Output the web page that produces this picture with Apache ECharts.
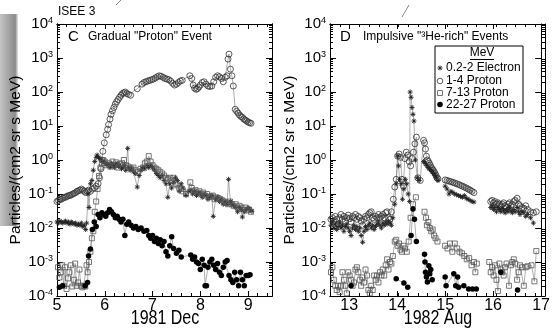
<!DOCTYPE html>
<html><head><meta charset="utf-8">
<script src="https://cdn.jsdelivr.net/npm/echarts@6/dist/echarts.min.js"></script>
<style>html,body{margin:0;padding:0;background:#fff}#c{width:553px;height:329px}</style>
</head><body><div id="c"></div>
<script>
// ---------- tick labels ----------
const leftXTicks = [5, 6, 7, 8, 9];
const rightXTicks = [13, 14, 15, 16, 17];
const yExponents = [-4, -3, -2, -1, 0, 1, 2, 3, 4];

// ---------- Panel C : 1981 Dec (day, value) ----------
const leftElectron = [[5.00,0.015],[5.03,0.014],[5.06,0.016],[5.09,0.015],[5.12,0.014],[5.15,0.015],[5.18,0.016],[5.21,0.014],[5.24,0.015],[5.27,0.013],[5.30,0.015],[5.33,0.014],[5.36,0.013],[5.39,0.014],[5.42,0.012],[5.45,0.013],[5.48,0.012],[5.51,0.014],[5.54,0.011],[5.57,0.012],[5.60,0.009],[5.62,0.014],[5.65,0.1],[5.67,0.04],[5.70,0.2],[5.73,0.25],[5.76,0.5],[5.79,0.9],[5.82,1.2],[5.84,1.4],[5.87,1.2],[5.90,1.1],[5.93,1.0],[5.96,0.9],[5.99,0.85],[6.02,0.8],[6.05,0.7],[6.08,0.75],[6.11,0.6],[6.14,0.8],[6.17,0.7],[6.20,0.6],[6.23,0.75],[6.26,0.8],[6.29,0.65],[6.32,0.7],[6.35,0.55],[6.38,0.6],[6.41,0.7],[6.44,0.5],[6.48,2.2],[6.50,0.6],[6.53,0.5],[6.56,0.55],[6.60,0.45],[6.64,0.4],[6.68,0.16],[6.72,0.35],[6.76,0.5],[6.80,0.6],[6.84,0.55],[6.88,0.7],[6.92,0.6],[6.96,0.7],[7.00,0.6],[7.04,0.5],[7.08,0.4],[7.12,0.35],[7.16,0.3],[7.20,0.35],[7.24,0.25],[7.28,0.2],[7.32,0.08],[7.36,0.2],[7.40,0.15],[7.44,0.22],[7.48,0.3],[7.52,0.25],[7.56,0.12],[7.60,0.2],[7.64,0.15],[7.70,0.09],[7.76,0.12],[7.80,0.13],[7.84,0.1],[7.88,0.12],[7.92,0.09],[7.96,0.11],[8.00,0.1],[8.04,0.08],[8.08,0.1],[8.12,0.09],[8.16,0.07],[8.20,0.08],[8.24,0.09],[8.27,0.022],[8.32,0.07],[8.36,0.08],[8.40,0.06],[8.44,0.07],[8.48,0.05],[8.52,0.06],[8.56,0.05],[8.59,0.27],[8.63,0.06],[8.66,0.05],[8.70,0.045],[8.74,0.04],[8.78,0.03],[8.82,0.04],[8.86,0.035],[8.88,0.021],[8.92,0.03],[8.96,0.035],[9.00,0.04],[9.04,0.035],[9.08,0.031]];
const leftProton1to4 = [[5.00,0.06],[5.03,0.065],[5.06,0.07],[5.09,0.07],[5.12,0.075],[5.15,0.08],[5.18,0.08],[5.21,0.085],[5.24,0.09],[5.27,0.09],[5.30,0.095],[5.33,0.1],[5.36,0.105],[5.39,0.11],[5.42,0.12],[5.45,0.125],[5.48,0.13],[5.51,0.14],[5.54,0.13],[5.57,0.12],[5.60,0.11],[5.63,0.12],[5.66,0.13],[5.70,0.12],[5.74,0.14],[5.78,0.15],[5.82,0.17],[5.86,0.2],[5.89,0.3],[5.92,0.55],[5.94,1.0],[5.96,1.8],[5.99,3.2],[6.03,5.5],[6.06,8],[6.08,11],[6.11,16],[6.13,22],[6.16,28],[6.19,35],[6.22,44],[6.25,52],[6.28,60],[6.31,70],[6.34,80],[6.37,90],[6.40,95],[6.43,100],[6.46,90],[6.50,85],[6.54,80],[6.68,125],[6.78,170],[6.82,190],[6.86,200],[6.90,210],[6.94,220],[6.98,230],[7.02,240],[7.06,260],[7.10,280],[7.14,300],[7.18,290],[7.22,270],[7.26,250],[7.30,240],[7.34,230],[7.38,210],[7.42,180],[7.46,160],[7.50,170],[7.54,190],[7.58,210],[7.62,220],[7.78,300],[7.82,250],[7.85,160],[7.88,130],[7.91,120],[7.94,125],[7.97,140],[8.00,160],[8.04,190],[8.08,200],[8.12,170],[8.16,150],[8.20,145],[8.24,150],[8.28,200],[8.32,270],[8.36,300],[8.40,280],[8.44,250],[8.48,200],[8.52,270],[8.56,300],[8.58,930],[8.60,1300],[8.63,470],[8.66,300],[8.69,150],[8.73,31],[8.76,27],[8.79,24],[8.82,21],[8.85,19],[8.88,18],[8.91,16],[8.94,15],[8.97,14],[9.00,13],[9.03,12.5],[9.06,12]];
const leftProton7to13 = [[5.02,0.0007],[5.05,0.00035],[5.08,0.0005],[5.11,0.0008],[5.14,0.0002],[5.17,0.0007],[5.20,0.00016],[5.23,0.00033],[5.26,0.0005],[5.29,0.0008],[5.32,0.00019],[5.35,0.0003],[5.38,0.0009],[5.41,0.0002],[5.44,0.00025],[5.47,0.0006],[5.50,0.0002],[5.53,0.00018],[5.56,0.0002],[5.59,0.00019],[5.62,0.0008],[5.64,0.0005],[5.67,0.001],[5.70,0.002],[5.73,0.005],[5.76,0.008],[5.79,0.03],[5.82,0.06],[5.85,0.14],[5.88,0.34],[5.91,0.6],[5.94,0.8],[5.97,1.0],[6.00,0.9],[6.04,0.7],[6.08,0.8],[6.12,0.65],[6.16,0.9],[6.20,0.7],[6.24,0.85],[6.28,0.6],[6.32,0.75],[6.36,0.8],[6.40,1.0],[6.44,0.7],[6.48,0.65],[6.52,0.6],[6.56,0.55],[6.60,0.6],[6.64,0.5],[6.70,0.45],[6.75,0.55],[6.80,0.6],[6.84,0.8],[6.88,0.9],[6.92,1.3],[6.96,0.9],[7.00,0.7],[7.04,0.6],[7.08,0.55],[7.12,0.5],[7.16,0.45],[7.20,0.4],[7.24,0.35],[7.28,0.3],[7.32,0.28],[7.36,0.3],[7.40,0.25],[7.44,0.3],[7.48,0.2],[7.52,0.18],[7.56,0.15],[7.60,0.14],[7.64,0.12],[7.70,0.1],[7.79,0.22],[7.82,0.15],[7.86,0.12],[7.90,0.13],[7.94,0.11],[7.98,0.12],[8.02,0.1],[8.06,0.11],[8.10,0.09],[8.14,0.1],[8.18,0.08],[8.22,0.085],[8.26,0.09],[8.30,0.07],[8.34,0.08],[8.38,0.075],[8.42,0.07],[8.46,0.065],[8.50,0.06],[8.54,0.055],[8.58,0.05],[8.62,0.06],[8.66,0.05],[8.70,0.045],[8.74,0.05],[8.78,0.04],[8.82,0.045],[8.86,0.04],[8.90,0.035],[8.94,0.04],[8.98,0.033],[9.02,0.035],[9.06,0.03]];
const leftProton22to27 = [[5.05,0.00018],[5.12,0.0002],[5.59,0.0002],[5.64,0.00025],[5.66,0.0015],[5.70,0.0024],[5.74,0.009],[5.78,0.015],[5.82,0.011],[5.86,0.025],[5.90,0.02],[5.94,0.028],[5.98,0.025],[6.02,0.022],[6.06,0.028],[6.10,0.035],[6.14,0.03],[6.18,0.025],[6.22,0.02],[6.26,0.022],[6.30,0.018],[6.34,0.015],[6.38,0.018],[6.42,0.006],[6.46,0.013],[6.50,0.015],[6.55,0.012],[6.60,0.01],[6.65,0.011],[6.70,0.009],[6.76,0.01],[6.82,0.008],[6.88,0.0085],[6.92,0.006],[6.96,0.005],[7.00,0.006],[7.04,0.004],[7.08,0.005],[7.12,0.0035],[7.16,0.0045],[7.20,0.003],[7.24,0.004],[7.28,0.002],[7.32,0.0015],[7.36,0.003],[7.40,0.0055],[7.44,0.0025],[7.50,0.0018],[7.55,0.0022],[7.60,0.0014],[7.80,0.0016],[7.84,0.0012],[7.88,0.0014],[7.92,0.001],[7.96,0.0009],[8.00,0.0006],[8.04,0.0012],[8.08,0.0008],[8.10,0.0002],[8.13,0.0002],[8.16,0.0007],[8.20,0.001],[8.24,0.0012],[8.28,0.0008],[8.32,0.0006],[8.36,0.0009],[8.40,0.0005],[8.44,0.0004],[8.48,0.0007],[8.52,0.001],[8.56,0.0011],[8.60,0.0004],[8.64,0.0003],[8.68,0.00025],[8.72,0.0005],[8.76,0.0003],[8.80,0.0002],[8.84,0.0005],[8.88,0.0003],[8.92,0.0002],[8.96,0.0004],[9.00,0.0004],[9.04,0.00042]];

// ---------- Panel D : 1982 Aug (day, value) ----------
const rightElectron = [[12.62,0.012],[12.65,0.015],[12.68,0.01],[12.71,0.013],[12.74,0.009],[12.77,0.011],[12.80,0.014],[12.83,0.01],[12.86,0.012],[12.89,0.008],[12.92,0.011],[12.95,0.013],[12.98,0.01],[13.01,0.008],[13.04,0.006],[13.07,0.01],[13.10,0.012],[13.13,0.009],[13.16,0.011],[13.19,0.008],[13.22,0.01],[13.25,0.006],[13.28,0.0038],[13.31,0.008],[13.34,0.011],[13.37,0.009],[13.40,0.012],[13.43,0.014],[13.46,0.01],[13.49,0.012],[13.52,0.009],[13.55,0.011],[13.58,0.013],[13.61,0.015],[13.64,0.012],[13.67,0.01],[13.70,0.014],[13.73,0.012],[13.76,0.015],[13.79,0.013],[13.82,0.016],[13.85,0.014],[13.88,0.012],[13.91,0.02],[13.95,0.05],[13.98,0.2],[14.01,1.3],[14.03,0.67],[14.05,0.27],[14.08,0.2],[14.11,0.07],[14.14,0.14],[14.17,0.27],[14.20,0.2],[14.23,0.1],[14.26,0.06],[14.27,100],[14.29,70],[14.31,35],[14.33,22],[14.35,14],[14.38,1.0],[14.42,0.3],[14.46,0.25],[14.50,null],[14.55,0.9],[14.58,0.8],[14.61,0.7],[14.64,0.6],[14.67,0.55],[14.70,0.5],[14.73,0.45],[14.76,0.4],[14.79,0.35],[14.82,0.3],[14.85,0.25],[14.92,null],[15.00,0.17],[15.04,0.14],[15.08,0.1],[15.12,0.12],[15.16,0.11],[15.20,0.1],[15.24,0.095],[15.28,0.09],[15.32,0.085],[15.36,0.08],[15.40,0.09],[15.44,0.075],[15.48,0.07],[15.52,0.065],[15.56,0.06],[15.60,0.058],[15.80,null],[15.95,0.04],[15.98,0.045],[16.01,0.035],[16.04,0.04],[16.07,0.03],[16.10,0.04],[16.13,0.035],[16.16,0.03],[16.19,0.038],[16.22,0.032],[16.25,0.028],[16.28,0.035],[16.31,0.03],[16.34,0.04],[16.37,0.032],[16.40,0.028],[16.43,0.035],[16.46,0.03],[16.50,0.04],[16.53,0.03],[16.56,0.025],[16.60,0.03],[16.64,0.028],[16.68,0.022],[16.72,0.025],[16.78,0.02],[16.84,0.014]];
const rightProton1to4 = [[12.62,0.018],[12.65,0.02],[12.68,0.015],[12.71,0.022],[12.74,0.018],[12.77,0.013],[12.80,0.02],[12.83,0.025],[12.86,0.018],[12.89,0.022],[12.92,0.016],[12.95,0.02],[12.98,0.024],[13.01,0.019],[13.04,0.015],[13.07,0.022],[13.10,0.02],[13.13,0.025],[13.16,0.018],[13.19,0.022],[13.22,0.02],[13.25,0.016],[13.28,0.012],[13.31,0.018],[13.34,0.022],[13.37,0.02],[13.40,0.025],[13.43,0.028],[13.46,0.03],[13.49,0.02],[13.52,0.018],[13.55,0.022],[13.58,0.02],[13.61,0.025],[13.64,0.02],[13.67,0.022],[13.70,0.025],[13.73,0.02],[13.76,0.028],[13.79,0.03],[13.82,0.02],[13.85,0.018],[13.88,0.03],[13.92,0.07],[13.95,0.16],[13.98,0.27],[14.01,1.3],[14.04,1.5],[14.07,1.2],[14.10,0.27],[14.13,0.17],[14.16,1.1],[14.19,1.7],[14.22,1.4],[14.25,0.9],[14.28,0.67],[14.31,1.1],[14.34,1.7],[14.37,3.0],[14.40,4.7],[14.43,0.3],[14.48,0.25],[14.55,3.8],[14.57,3.2],[14.59,2.1],[14.61,1.3],[14.63,1.0],[14.65,0.9],[14.67,0.8],[14.69,0.7],[14.71,0.6],[14.73,0.55],[14.75,0.5],[14.77,0.45],[14.79,0.4],[14.81,0.35],[14.83,0.3],[14.85,0.28],[14.92,null],[15.00,0.26],[15.04,0.25],[15.08,0.24],[15.12,0.23],[15.16,0.22],[15.20,0.21],[15.24,0.2],[15.28,0.19],[15.32,0.18],[15.36,0.17],[15.40,0.16],[15.44,0.15],[15.48,0.14],[15.52,0.13],[15.56,0.12],[15.60,0.11],[15.80,null],[15.95,0.06],[15.98,0.065],[16.01,0.055],[16.04,0.06],[16.07,0.05],[16.10,0.055],[16.13,0.05],[16.16,0.045],[16.19,0.05],[16.22,0.055],[16.25,0.045],[16.28,0.04],[16.31,0.05],[16.34,0.055],[16.37,0.045],[16.40,0.05],[16.43,0.06],[16.46,0.065],[16.50,0.075],[16.53,0.05],[16.56,0.045],[16.60,0.04],[16.64,0.038],[16.68,0.045],[16.72,0.035],[16.78,0.03],[16.84,0.028],[16.90,0.03]];
const rightProton7to13 = [[12.62,0.0005],[12.65,0.0007],[12.68,0.0003],[12.71,0.0002],[12.74,0.00015],[12.77,0.0002],[12.80,0.00013],[12.83,0.0002],[12.86,0.0005],[12.89,0.0003],[12.92,0.0002],[12.95,0.00012],[12.98,0.0005],[13.01,0.0004],[13.04,0.0003],[13.07,0.0002],[13.10,0.00025],[13.13,0.0006],[13.16,0.0007],[13.19,0.0005],[13.22,0.0003],[13.25,0.0002],[13.28,0.00035],[13.31,0.00025],[13.34,0.0006],[13.37,0.0004],[13.40,0.00015],[13.43,0.00012],[13.46,0.0002],[13.49,0.00015],[13.52,0.0004],[13.55,0.0003],[13.58,0.0004],[13.61,0.00025],[13.64,0.0005],[13.67,0.0004],[13.70,0.0006],[13.73,0.0004],[13.76,0.0008],[13.79,0.0012],[13.82,0.0006],[13.85,0.001],[13.88,0.0009],[13.91,0.0015],[13.95,0.004],[13.98,0.0045],[14.01,0.003],[14.04,0.0035],[14.07,0.0023],[14.10,0.002],[14.13,0.003],[14.16,0.0025],[14.20,0.002],[14.24,0.004],[14.28,0.02],[14.33,0.05],[14.39,0.08],[14.47,null],[14.57,0.03],[14.60,0.02],[14.62,0.012],[14.65,0.015],[14.68,0.01],[14.71,0.008],[14.74,0.009],[14.77,0.006],[14.80,0.005],[14.84,0.004],[14.92,null],[15.00,0.003],[15.05,0.0025],[15.10,0.0035],[15.15,0.002],[15.20,0.0035],[15.25,0.0025],[15.30,0.002],[15.35,0.0018],[15.40,0.0015],[15.45,0.0012],[15.50,0.0013],[15.55,0.0008],[15.60,0.001],[15.63,0.0005],[15.66,0.0009],[15.80,null],[15.92,0.001],[15.95,0.0005],[15.98,0.0007],[16.01,0.0004],[16.04,0.0008],[16.07,0.0003],[16.10,0.00014],[16.13,0.0009],[16.16,0.0006],[16.19,0.0005],[16.22,0.0004],[16.25,0.0007],[16.28,0.0009],[16.33,0.0002],[16.37,0.0008],[16.40,0.001],[16.43,0.0012],[16.46,0.0009],[16.50,0.0003],[16.53,0.0005],[16.56,0.0008],[16.60,0.0007],[16.64,0.0002],[16.68,0.0007],[16.72,0.00075],[16.80,0.0008],[16.86,0.00027],[16.90,0.0021]];
const rightProton22to27 = [[13.04,0.0002],[13.50,null],[13.98,0.00032],[14.14,0.00024],[14.22,0.00018],[14.26,null],[14.29,0.006],[14.33,0.036],[14.36,0.018],[14.40,0.004],[14.47,null],[14.57,0.0017],[14.58,0.001],[14.59,0.0005],[14.61,0.00036],[14.63,0.00026],[14.66,0.00077],[14.68,0.00045],[14.70,0.0006],[14.73,0.0003],[14.80,null],[15.00,0.00036],[15.02,0.0002],[15.18,0.00045],[15.22,0.0002],[15.26,0.00036],[15.28,0.00018],[15.39,0.0002],[15.49,0.00016],[15.57,0.00016],[15.65,0.00016],[15.90,null],[16.16,0.0005],[16.30,null],[16.51,0.00015]];

// ---------- helpers ----------
const FONT = 'Liberation Sans, Arial, Helvetica, sans-serif';
const ASTER = 'path://M5,0L5,10M0,5L10,5M1.6,1.6L8.4,8.4M1.6,8.4L8.4,1.6';
const minorY = [];
for (let e = -4; e < 4; e++) for (let m = 2; m <= 9; m++) minorY.push(e + Math.log10(m));

const seriesLook = {
  e:   {symbol: ASTER, symbolSize: 5, itemStyle: {color: '#222', borderColor: '#222', borderWidth: 0.9}},
  p14: {symbol: 'circle', symbolSize: 6, itemStyle: {color: 'rgba(255,255,255,0)', borderColor: '#333', borderWidth: 0.8}},
  p713:{symbol: 'rect', symbolSize: 5, itemStyle: {color: 'rgba(255,255,255,0)', borderColor: '#555', borderWidth: 0.8}},
  p2227:{symbol: 'circle', symbolSize: 5.5, itemStyle: {color: '#000', borderWidth: 0}}
};
function ser(name, data, look, axis) {
  return Object.assign({
    type: 'line', name, data, xAxisIndex: axis, yAxisIndex: axis,
    showSymbol: true, showAllSymbol: true, connectNulls: false, clip: true,
    lineStyle: {color: '#777', width: 0.6}, emphasis: {disabled: true}, animation: false
  }, seriesLook[look]);
}
const AXLINE = {show: true, onZero: false, lineStyle: {color: '#000', width: 1}};
function mainX(grid, min, max, ticks) {
  return {type: 'value', gridIndex: grid, position: 'bottom', min, max,
    axisLine: AXLINE,
    axisTick: {show: true, inside: true, length: 5, customValues: ticks, lineStyle: {color: '#000'}},
    axisLabel: {show: true, customValues: ticks, margin: 2, fontSize: 16, fontFamily: FONT, color: '#000'},
    splitLine: {show: false}};
}
function plainX(grid, pos, min, max, ticks, len, interval) {
  const a = {type: 'value', gridIndex: grid, position: pos, min, max,
    axisLine: AXLINE,
    axisTick: {show: true, inside: true, length: len, lineStyle: {color: '#000'}},
    axisLabel: {show: false}, splitLine: {show: false}};
  if (ticks) a.axisTick.customValues = ticks; else a.interval = interval;
  return a;
}
function logY(grid, pos, labels, name, gap) {
  const a = {type: 'log', logBase: 10, gridIndex: grid, position: pos, min: 1e-4, max: 1e4,
    axisLine: AXLINE,
    axisTick: {show: true, inside: true, length: 6, lineStyle: {color: '#000'}},
    splitLine: {show: false},
    axisLabel: {show: labels, margin: 4,
      formatter: v => '{b|10}{s|' + Math.round(Math.log10(v)) + '}',
      rich: {b: {fontSize: 15, fontFamily: FONT, color: '#000', lineHeight: 16},
             s: {fontSize: 9, fontFamily: FONT, color: '#000', verticalAlign: 'top', lineHeight: 10}}}};
  if (name) Object.assign(a, {name, nameLocation: 'middle', nameRotate: 90, nameGap: gap,
      nameTextStyle: {fontSize: 15.5, fontFamily: FONT, color: '#000'}});
  return a;
}
function minorYAxis(grid, pos) {
  return {type: 'value', gridIndex: grid, position: pos, min: -4, max: 4,
    axisLine: AXLINE,
    axisTick: {show: true, inside: true, length: 3, customValues: minorY, lineStyle: {color: '#000'}},
    axisLabel: {show: false}, splitLine: {show: false}};
}
function txt(x, y, text, size, extra) {
  return {type: 'text', x, y, style: Object.assign({text, font: size + 'px ' + FONT, fill: '#000', verticalAlign: 'middle'}, extra || {})};
}
function seg(x1, y1, x2, y2, color, w, z) {
  return {type: 'line', z: z || 0, shape: {x1, y1, x2, y2}, style: {stroke: color, lineWidth: w}};
}

const G = {top: 24, height: 272, width: 215};
const option = {
  animation: false,
  backgroundColor: '#fff',
  grid: [
    Object.assign({left: 57}, G), Object.assign({left: 57}, G),
    Object.assign({left: 330}, G), Object.assign({left: 330}, G)
  ],
  xAxis: [
    mainX(0, 5, 9.5, leftXTicks),
    plainX(0, 'top', 5, 9.5, leftXTicks, 5),
    plainX(1, 'bottom', 5, 9.5, null, 3, 0.2),
    plainX(1, 'top', 5, 9.5, null, 3, 0.2),
    mainX(2, 12.6, 17, rightXTicks),
    plainX(2, 'top', 12.6, 17, rightXTicks, 5),
    plainX(3, 'bottom', 12.6, 17, null, 3, 0.2),
    plainX(3, 'top', 12.6, 17, null, 3, 0.2)
  ],
  yAxis: [
    logY(0, 'left', true, 'Particles/(cm2 sr s MeV)', 33),
    logY(0, 'right', false),
    minorYAxis(1, 'left'), minorYAxis(1, 'right'),
    logY(2, 'left', true, 'Particles/(cm2 sr s MeV)', 31),
    logY(2, 'right', false),
    minorYAxis(3, 'left'), minorYAxis(3, 'right')
  ],
  series: [
    ser('1-4 Proton', leftProton1to4, 'p14', 0),
    ser('0.2-2 Electron', leftElectron, 'e', 0),
    ser('7-13 Proton', leftProton7to13, 'p713', 0),
    ser('22-27 Proton', leftProton22to27, 'p2227', 0),
    ser('1-4 Proton', rightProton1to4, 'p14', 4),
    ser('0.2-2 Electron', rightElectron, 'e', 4),
    ser('7-13 Proton', rightProton7to13, 'p713', 4),
    ser('22-27 Proton', rightProton22to27, 'p2227', 4)
  ],
  graphic: [
    {type: 'rect', shape: {x: 0, y: 14, width: 18, height: 212}, silent: true, z: -1,
     style: {fill: {type: 'linear', x: 0, y: 0, x2: 1, y2: 0, colorStops: [
       {offset: 0, color: '#c4c4c4'}, {offset: 0.6, color: '#9c9c9c'}, {offset: 0.85, color: '#8c8c8c'}, {offset: 1, color: '#e8e8e8'}]}}},
    seg(116, 5, 121, 0, '#888', 1),
    seg(402, 17, 409, 5, '#888', 1),
    txt(58, 12, 'ISEE 3', 12),
    txt(68, 37, 'C', 15),
    txt(88, 37, 'Gradual "Proton" Event', 12),
    txt(340, 37, 'D', 15),
    txt(363, 37, 'Impulsive "\u00b3He-rich" Events', 12),
    // axis titles (vertically stretched like the reference)
    Object.assign(txt(165, 318, '1981 Dec', 16, {align: 'center'}), {scaleY: 1.25}),
    Object.assign(txt(438, 318, '1982 Aug', 16, {align: 'center'}), {scaleY: 1.25}),
    // legend box
    {type: 'rect', z: 10, shape: {x: 435, y: 46, width: 88, height: 67}, style: {fill: '#fff', stroke: '#000', lineWidth: 1}},
    Object.assign(txt(482, 53, 'MeV', 12, {align: 'center'}), {z: 11}),
    seg(470, 59.5, 494, 59.5, '#000', 1, 11),
    seg(440, 65.5, 440, 70.5, '#222', 0.9, 11),
    seg(437.5, 68, 442.5, 68, '#222', 0.9, 11),
    seg(438.2, 66.2, 441.8, 69.8, '#222', 0.9, 11),
    seg(438.2, 69.8, 441.8, 66.2, '#222', 0.9, 11),
    {type: 'circle', z: 11, shape: {cx: 440, cy: 81, r: 2.8}, style: {stroke: '#333', lineWidth: 0.8, fill: 'none'}},
    {type: 'rect', z: 11, shape: {x: 437.5, y: 90.5, width: 5, height: 5}, style: {stroke: '#555', lineWidth: 0.8, fill: 'none'}},
    {type: 'circle', z: 11, shape: {cx: 440, cy: 104.5, r: 2.8}, style: {fill: '#000'}},
    Object.assign(txt(446, 68, '0.2-2 Electron', 12), {z: 11}),
    Object.assign(txt(446, 81, '1-4 Proton', 12), {z: 11}),
    Object.assign(txt(446, 93, '7-13 Proton', 12), {z: 11}),
    Object.assign(txt(446, 104.5, '22-27 Proton', 12), {z: 11})
  ]
};
const chart = echarts.init(document.getElementById('c'), null, {renderer: 'canvas'});
chart.setOption(option);
</script>
</body></html>
